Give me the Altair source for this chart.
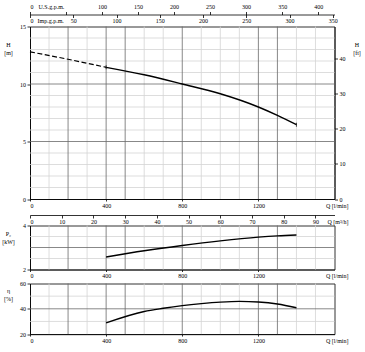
import altair as alt
import pandas as pd

# ---------------- data ----------------
# Head curve (m) vs Q (l/min): dashed (outside working range) and solid part
h_dash_q = [0, 200, 400]
h_dash_v = [12.8, 12.15, 11.45]
h_q = [400, 600, 800, 1000, 1200, 1300, 1400]
h_v = [11.45, 10.8, 10.0, 9.15, 8.0, 7.27, 6.46]

# Power P2 (kW)
p_q = [400, 600, 800, 1000, 1200, 1300, 1400]
p_v = [2.57, 2.85, 3.09, 3.30, 3.47, 3.53, 3.57]

# Efficiency (%)
e_q = [400, 600, 700, 800, 900, 1000, 1100, 1200, 1300, 1400]
e_v = [28.9, 37.9, 40.4, 42.5, 44.1, 45.3, 45.9, 45.4, 43.8, 40.8]

# grid positions / tick values
grid_q_light = [100, 300, 600, 700, 900, 1000, 1100, 1400, 1500]
grid_q_dark = [200, 400, 500, 800, 1200, 1300]
grid_h_light = [1, 2, 3, 4, 6, 7, 8, 9, 11, 12, 13, 14]
grid_h_dark = [5, 10]
grid_p_light = [2.5, 3.5]
grid_p_dark = [3]
grid_e_light = [30, 50]
grid_e_dark = [40]

q_ticks = [0, 400, 800, 1200]
h_ticks = [0, 5, 10, 15]
ft_ticks = [0, 10, 20, 30, 40]
p_ticks = [2, 3, 4]
e_ticks = [20, 40, 60]
usgpm_ticks = [0, 50, 100, 150, 200, 250, 300, 350, 400]
impgpm_ticks = [0, 50, 100, 150, 200, 250, 300, 350]
m3h_ticks = [0, 10, 20, 30, 40, 50, 60, 70, 80, 90]

Q_MAX = 1600
US_MAX = Q_MAX / 3.78541
IMP_MAX = Q_MAX / 4.54609
M3H_MAX = Q_MAX * 60 / 1000
H_MAX = 15
FT_MAX = H_MAX / 0.3048

W = 304.5
H_H = 172.5
H_P = 44
H_E = 50.6

FONT = "Liberation Sans Narrow"
FS = 6
LIGHT = "#d4d4d4"
DARK = "#6a6a6a"
Q_DOM = [0, Q_MAX]


def xs():
    return alt.Scale(domain=Q_DOM, nice=False, zero=False)


def ysc(dom):
    return alt.Scale(domain=dom, nice=False, zero=False)


def q_axis():
    return alt.Axis(values=q_ticks, format="d", grid=False, tickSize=2, labelPadding=1,
                    title="Q [l/min]", titleAngle=0, titleAlign="right", titleColor="black",
                    titleFontWeight="normal", titleX=318, titleY=6, titleBaseline="middle")


def grid_layers(light_y, dark_y, ydom):
    out = []
    for vals, col in ((grid_q_light, LIGHT), (grid_q_dark, DARK)):
        df = pd.DataFrame({"q": vals, "y0": ydom[0], "y1": ydom[1]})
        out.append(alt.Chart(df).mark_rule(color=col, strokeWidth=0.8).encode(
            x=alt.X("q:Q", scale=xs(), axis=None),
            y=alt.Y("y0:Q", scale=ysc(ydom), axis=None), y2="y1:Q"))
    for vals, col in ((light_y, LIGHT), (dark_y, DARK)):
        df = pd.DataFrame({"v": vals, "x0": Q_DOM[0], "x1": Q_DOM[1]})
        out.append(alt.Chart(df).mark_rule(color=col, strokeWidth=0.8).encode(
            x=alt.X("x0:Q", scale=xs(), axis=None), x2="x1:Q",
            y=alt.Y("v:Q", scale=ysc(ydom), axis=None)))
    # keep light lines below dark ones
    return [out[0], out[2], out[1], out[3]]


def left_axis(vals, title, ty):
    return alt.Axis(values=vals, format="d", grid=False, tickSize=3, labelPadding=1.5,
                    title=title, titleAngle=0, titleAlign="center", titleBaseline="top",
                    titleColor="black", titleFontWeight="normal",
                    titleX=-22, titleY=ty, titleLineHeight=8)


def axis_layer(xmax, xaxis, ydom, y_is_secondary=False, ymax=None, yaxis=None):
    df = pd.DataFrame({"v": [0, xmax if xmax else Q_MAX], "w": [ydom[0], ymax if ymax else ydom[1]]})
    if not y_is_secondary:
        return alt.Chart(df).mark_point(opacity=0).encode(
            x=alt.X("v:Q", scale=alt.Scale(domain=[0, xmax], nice=False, zero=False), axis=xaxis),
            y=alt.Y("w:Q", scale=ysc(ydom), axis=None))
    return alt.Chart(df).mark_point(opacity=0).encode(
        x=alt.X("v:Q", scale=xs(), axis=None),
        y=alt.Y("w:Q", scale=alt.Scale(domain=[0, ymax], nice=False, zero=False), axis=yaxis))


# ---------------- H panel ----------------
h_dom = [0, H_MAX]
df_hd = pd.DataFrame({"q": h_dash_q, "h": h_dash_v})
df_h = pd.DataFrame({"q": h_q, "h": h_v})
df_hm = pd.DataFrame({"q": [h_q[0], h_q[-1]], "h": [h_v[0], h_v[-1]]})

h_solid = alt.Chart(df_h).mark_line(color="black", strokeWidth=1.4, interpolate="monotone").encode(
    x=alt.X("q:Q", scale=xs(), axis=q_axis()),
    y=alt.Y("h:Q", scale=ysc(h_dom), axis=left_axis(h_ticks, ["H", "[m]"], 15)))
h_dash = alt.Chart(df_hd).mark_line(color="black", strokeWidth=1.2, strokeDash=[5, 2.5],
                                    interpolate="monotone").encode(
    x=alt.X("q:Q", scale=xs(), axis=None), y=alt.Y("h:Q", scale=ysc(h_dom), axis=None))
h_mark = alt.Chart(df_hm).mark_tick(color="black", orient="vertical", size=4, thickness=1).encode(
    x=alt.X("q:Q", scale=xs(), axis=None), y=alt.Y("h:Q", scale=ysc(h_dom), axis=None))

us_layer = axis_layer(US_MAX, alt.Axis(
    orient="top", values=usgpm_ticks, offset=12, tickSize=3, labelPadding=2.5, grid=False,
    labelExpr="datum.value == 50 ? '' : datum.label",
    title="U.S.g.p.m.", titleAngle=0, titleAlign="left", titleBaseline="bottom", titleColor="black",
    titleFontWeight="normal", titleX=8, titleY=-5.5), h_dom)
imp_layer = axis_layer(IMP_MAX, alt.Axis(
    orient="top", values=impgpm_ticks, offset=9, tickSize=3, labelPadding=-6,
    labelBaseline="middle", domain=False, grid=False,
    title="Imp.g.p.m.", titleAngle=0, titleAlign="left", titleBaseline="middle", titleColor="black",
    titleFontWeight="normal", titleX=7, titleY=3), h_dom)
m3_layer = axis_layer(M3H_MAX, alt.Axis(
    orient="bottom", values=m3h_ticks, offset=16, tickSize=3, labelPadding=0.5, grid=False,
    title="Q [m³/h]", titleAngle=0, titleAlign="right", titleBaseline="middle", titleColor="black",
    titleFontWeight="normal", titleX=318, titleY=6), h_dom)
ft_layer = axis_layer(None, None, h_dom, True, FT_MAX, alt.Axis(
    orient="right", values=ft_ticks, tickSize=3, labelPadding=1.5, grid=False,
    title=["H", "[ft]"], titleAngle=0, titleAlign="center", titleBaseline="top", titleColor="black",
    titleFontWeight="normal", titleX=22, titleY=15, titleLineHeight=8))

h_panel = alt.layer(*grid_layers(grid_h_light, grid_h_dark, h_dom), h_dash, h_solid, h_mark,
                    us_layer, imp_layer, m3_layer, ft_layer).resolve_scale(
    x="independent", y="independent").properties(width=W, height=H_H)

# ---------------- P2 panel ----------------
p_dom = [2, 4]
p_line = alt.Chart(pd.DataFrame({"q": p_q, "p": p_v})).mark_line(
    color="black", strokeWidth=1.4, interpolate="monotone").encode(
    x=alt.X("q:Q", scale=xs(), axis=q_axis()),
    y=alt.Y("p:Q", scale=ysc(p_dom), axis=left_axis(p_ticks, ["P₂", "[kW]"], 5)))
p_panel = alt.layer(*grid_layers(grid_p_light, grid_p_dark, p_dom), p_line).resolve_scale(
    x="independent", y="independent").properties(width=W, height=H_P)

# ---------------- efficiency panel ----------------
e_dom = [20, 60]
e_line = alt.Chart(pd.DataFrame({"q": e_q, "e": e_v})).mark_line(
    color="black", strokeWidth=1.4, interpolate="monotone").encode(
    x=alt.X("q:Q", scale=xs(), axis=q_axis()),
    y=alt.Y("e:Q", scale=ysc(e_dom), axis=left_axis(e_ticks, ["η", "[%]"], 4)))
e_panel = alt.layer(*grid_layers(grid_e_light, grid_e_dark, e_dom), e_line).resolve_scale(
    x="independent", y="independent").properties(width=W, height=H_E)

lower = alt.vconcat(p_panel, e_panel, spacing=14, bounds="flush")

chart = alt.vconcat(h_panel, lower, spacing=-4).properties(
    padding={"left": 1, "top": 2.5, "right": 2, "bottom": 2}, background="white"
).configure_view(stroke="#333333", strokeWidth=1).configure_axis(
    labelFont=FONT, labelFontSize=FS, labelColor="black",
    titleFont=FONT, titleFontSize=FS, titleColor="black", titleFontWeight="normal",
    domainColor="black", domainWidth=0.8, tickColor="black", tickWidth=0.8
)

chart.save("out.html", embed_options={"renderer": "svg", "actions": False})
